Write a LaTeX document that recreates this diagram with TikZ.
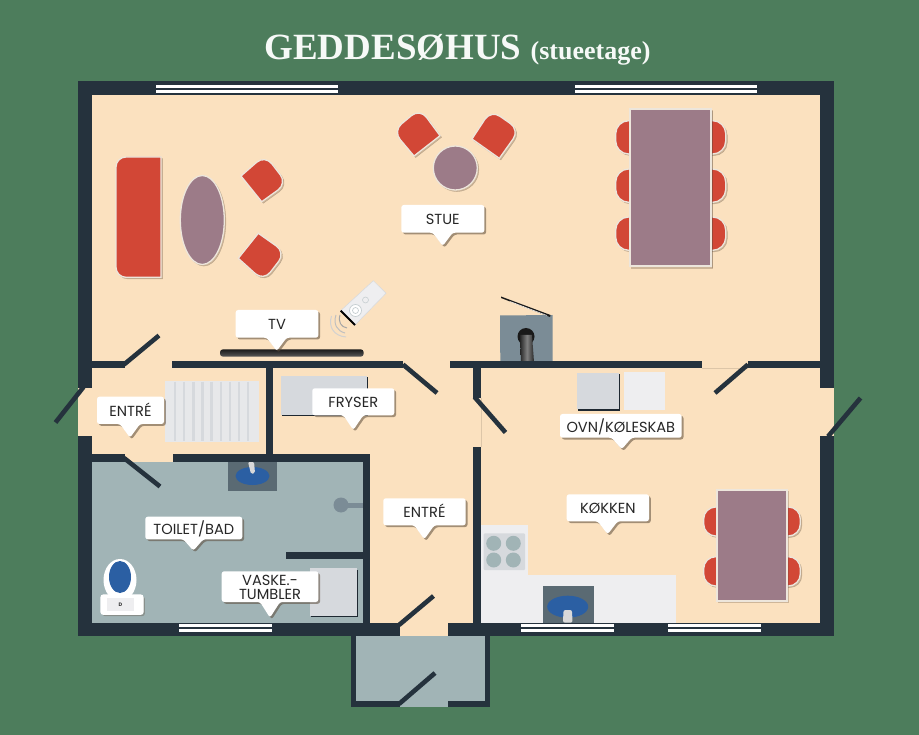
\documentclass[tikz,border=0pt]{standalone}
\usepackage{fontspec}
\setmainfont{Poppins}
\newfontfamily\titlefont{Liberation Serif}
\definecolor{bggreen}{HTML}{4D7D5C}
\definecolor{wall}{HTML}{25323D}
\definecolor{floorc}{HTML}{FBE1BF}
\definecolor{wetc}{HTML}{A1B4B6}
\definecolor{redc}{HTML}{D24736}
\definecolor{purplec}{HTML}{9C7B88}
\definecolor{edgec}{HTML}{EDE6DC}
\definecolor{counter}{HTML}{EEEEF0}
\definecolor{appl}{HTML}{D6D9DD}
\definecolor{sinkgrey}{HTML}{5A6A73}
\definecolor{blues}{HTML}{2B5FA3}
\definecolor{stovegrey}{HTML}{7B8C96}
\definecolor{shadowc}{HTML}{5A4A3A}
\tikzset{
  wallf/.style={fill=wall},
  leaf/.style={draw=wall,line width=4.6pt},
  winline/.style={fill=white},
  furn/.style={draw=edgec,line width=1.3pt,
    preaction={fill=shadowc,draw=shadowc,opacity=.28,transform canvas={xshift=1.6pt,yshift=-1.6pt}}},
  redf/.style={furn,fill=redc},
  purf/.style={furn,fill=purplec},
  applf/.style={fill=appl,
    preaction={fill=wall!80!black,transform canvas={xshift=1pt,yshift=-1.3pt}}},
  bubble/.style={fill=white,rounded corners=2.5pt,
    preaction={fill=shadowc,opacity=.55,transform canvas={xshift=1.8pt,yshift=-1.8pt}}},
  labeltext/.style={inner sep=0pt,text=black!85,align=center,font=\fontsize{14.6}{13.8}\selectfont},
}
% name, x1, y1, x2, y2, tipx, tipy, text
\newcommand{\callout}[8]{%
  \path[bubble] (#2,#3) -- (#4,#3) -- (#4,#5) -- ({#6+10},#5) -- (#6,#7) -- ({#6-10},#5) -- (#2,#5) -- cycle;
  \node[labeltext] (#1) at ({(#2+#4)/2},{(#3+#5)/2+1}) {#8};
}
\begin{document}
\begin{tikzpicture}[x=1pt,y=-1pt]
\useasboundingbox (0,0) rectangle (919,735);
\fill[bggreen] (0,0) rectangle (919,735);
% title
\node[anchor=base,inner sep=0pt,text=white!95!bggreen] (title) at (457.5,60)
  {\titlefont\bfseries\fontsize{37}{40}\selectfont GEDDESØHUS {\fontsize{26}{30}\selectfont (stueetage)}};
% floors
\fill[floorc] (92,95) rectangle (819.5,623);
\fill[floorc] (77.7,387.7) rectangle (92,436);
\fill[floorc] (819,387.7) rectangle (834,436);
\fill[floorc] (400,622) rectangle (448,636);
\fill[wetc] (92,461.7) rectangle (363,623);
\fill[wetc] (355,635.7) rectangle (485,700.7);
\fill[wetc] (400,700) rectangle (448,706.7);
\draw[floorc!88!black,line width=.4pt] (480.7,398) -- (480.7,447);
\draw[floorc!88!black,line width=.4pt] (701.7,368) -- (748,368);
% living room furniture
\path[redf] (161,157) [rounded corners=10pt] -- (116,157) -- (116,277.3) [sharp corners] -- (161,277.3) -- cycle;
\path[purf] (202.3,220) ellipse [x radius=22,y radius=44.5];
\path[redf] (241,176) -- (261.7,201.7) [rounded corners=11pt] -- (287,183.5) -- (265,155) [sharp corners] -- cycle;
\path[redf] (238.3,258.3) -- (258.3,233.3) [rounded corners=11pt] -- (285.5,252.5) -- (263.5,281) [sharp corners] -- cycle;
\path[redf] (414,156) -- (440,135.7) [rounded corners=11pt] -- (420,108.5) -- (393,131) [sharp corners] -- cycle;
\path[redf] (472,139) -- (499.3,158.3) [rounded corners=11pt] -- (519.5,130) -- (491,110) [sharp corners] -- cycle;
\path[purf] (455.3,168) circle [radius=22];
\foreach \ya/\yb in {120.7/154,169/202.3,217/250.3}{
  \path[redf,rounded corners=13pt] (615.7,\ya) rectangle (725.7,\yb);
}
\path[purf,line width=2pt] (630,109) rectangle (711,266.3);
% TV and remote
\path[top color=black!90,bottom color=black!65,rounded corners=3pt] (220,349.3) rectangle (363.7,356.7);
\path[fill=counter,draw=appl,line width=.5pt] (340.7,310.7) -- (373.3,280.7) -- (386,293.3) -- (355,325) -- cycle;
\draw[black,line width=1.8pt] (340.7,310.7) -- (355,325);
\draw[appl!70!wetc,line width=.7pt,fill=white] (355.5,310.5) circle [radius=6];
\draw[appl!70!wetc,line width=.7pt] (355.5,310.5) circle [radius=3];
\draw[appl!70!wetc,line width=.6pt] (365.5,300) circle [radius=3];
\draw[black!35,line width=1pt] (340,315) .. controls (338,322) and (341,327) .. (347,328);
\draw[black!25,line width=1pt] (336,315) .. controls (333,324) and (337,331) .. (345,333);
\draw[black!18,line width=1pt] (331.5,316) .. controls (328,327) and (334,336) .. (346,337);
% fireplace
\fill[stovegrey] (500,315.5) -- (552.7,315) -- (552.7,361) -- (500.3,361) -- cycle;
\fill[black!90] (526,336.5) circle [radius=8.5];
\path[left color=black!85,right color=black!85,middle color=black!50] (520,335) -- (532,335) -- (534,362) -- (521,362) -- cycle;
\fill[black!90] (501,296.5) -- (550.5,315) -- (550,317) -- (501,298) -- cycle;
\draw[white,line width=.5pt] (510,301.5) -- (547,315.5);
% stairs
\fill[counter!70!appl] (164.5,381) rectangle (258.5,441.5);
\foreach \sx in {175,184.2,193.3,202.4,211.6,220.7,230,239,248}{
  \draw[appl,line width=2.4pt] (\sx,382) -- (\sx,441);
}
% freezer
\path[applf] (280.7,375.7) rectangle (367.3,415);
% bath
\fill[sinkgrey] (228,461.7) rectangle (277,491);
\fill[blues] (252.5,476) ellipse [x radius=17,y radius=9];
\path[fill=black!15,rounded corners=1.5pt] (248,461.7) -- (254,461.7) -- (255,473) -- (251,474) -- cycle;
\fill[stovegrey] (341,505) circle [radius=7.5];
\fill[stovegrey] (341,502.5) rectangle (363,507.5);
\path[applf] (310,568.3) rectangle (357.3,615.7);
\path[fill=white] (120,580) ellipse [x radius=16.5,y radius=21];
\path[fill=blues] (120,577) ellipse [x radius=11,y radius=16];
\path[furn,fill=white,draw=white,rounded corners=2.5pt] (101,595) rectangle (143,614.3);
\fill[counter] (106.7,598.3) rectangle (134.3,610.7);
\node[inner sep=0pt,text=black!80,font=\fontsize{5}{5}\selectfont\bfseries] (toiletmark) at (120.5,604.8) {D};
% kitchen
\fill[counter] (480.7,575) rectangle (676,622.7);
\fill[counter] (480.7,525) rectangle (528.3,575);
\fill[appl,rounded corners=1pt] (483.7,533.3) rectangle (525,570);
\foreach \bx in {493.7,513.3}{\foreach \by in {543.3,560}{
  \fill[wetc] (\bx,\by) circle [radius=7.5];
}}
\fill[sinkgrey] (543,586) rectangle (594,622.7);
\fill[blues] (567.7,606.7) ellipse [x radius=20.5,y radius=11];
\path[fill=black!15,rounded corners=2pt] (563,622.7) -- (563.5,610) -- (572,610) -- (572.5,622.7) -- cycle;
\path[applf] (577.3,372.7) rectangle (618.7,409.3);
\fill[counter] (624,372) rectangle (665.3,410);
\foreach \ya/\yb in {507/536,556.7/586}{
  \path[redf,rounded corners=12pt] (703.7,\ya) rectangle (800.3,\yb);
}
\path[purf,line width=2pt] (716.7,490) rectangle (786.7,600.7);
% walls: outer
\fill[wallf] (77.7,81) rectangle (834,95.3);
\fill[wallf] (77.7,81) rectangle (92,387.7);
\fill[wallf] (77.7,436) rectangle (92,635.7);
\fill[wallf] (819.5,81) rectangle (834,387.7);
\fill[wallf] (819.5,436) rectangle (834,635.7);
\fill[wallf] (77.7,622.7) rectangle (400,635.7);
\fill[wallf] (448,622.7) rectangle (834,635.7);
% walls: inner horizontal
\fill[wallf] (92,361) rectangle (125,368);
\fill[wallf] (172.3,361) rectangle (403,368);
\fill[wallf] (450,361) rectangle (701.7,368);
\fill[wallf] (748,361) rectangle (819.5,368);
\fill[wallf] (92,454.3) rectangle (125,461.7);
\fill[wallf] (173.3,454.3) rectangle (370,461.7);
\fill[wallf] (285.7,552) rectangle (363,559.3);
% walls: inner vertical
\fill[wallf] (266,361) rectangle (272.7,455);
\fill[wallf] (362.7,454.3) rectangle (370,623);
\fill[wallf] (473.3,361) rectangle (480.7,398);
\fill[wallf] (473.3,446.7) rectangle (480.7,623);
% porch walls
\fill[wallf] (350.7,635) rectangle (355.7,706.7);
\fill[wallf] (484.7,635) rectangle (490,706.7);
\fill[wallf] (350.7,700.7) rectangle (400,706.7);
\fill[wallf] (448,700.7) rectangle (490,706.7);
% door leaves
\draw[leaf] (124,364.5) -- (159,335.5);
\draw[leaf] (403,364.5) -- (437,393);
\draw[leaf] (748,364.5) -- (715,393);
\draw[leaf] (124,458) -- (160,486.5);
\draw[leaf] (474.5,397) -- (505.5,432.5);
\draw[leaf] (83.5,387) -- (55.5,422.5);
\draw[leaf] (828,436.5) -- (860.5,398);
\draw[leaf] (399,625) -- (433.5,596);
\draw[leaf] (399,704) -- (435,673);
% windows
\foreach \xa/\xb in {156/338,574.7/756.7}{
  \fill[winline] (\xa,84.7) rectangle (\xb,87.7);
  \fill[winline] (\xa,89.7) rectangle (\xb,93);
}
\foreach \xa/\xb in {179/271.7,520.7/613.7,668/761}{
  \fill[winline] (\xa,624.3) rectangle (\xb,627.3);
  \fill[winline] (\xa,629) rectangle (\xb,632);
}
% labels
\callout{stue}{401.3}{205}{484.3}{232.7}{442.7}{246}{STUE}
\callout{tv}{235.7}{310}{318.3}{337.7}{276.7}{351}{TV}
\callout{entre1}{97}{396.7}{164}{424}{130}{437.7}{ENTR\smash{É}}
\callout{fryser}{312.3}{388.3}{394.3}{415.3}{353.3}{430}{FRYSER}
\callout{toilet}{145.3}{516.7}{242.3}{539.3}{193.3}{550.7}{TOILET/BAD}
\callout{entre2}{383.3}{498.3}{465.7}{525.3}{424.3}{539.3}{ENTR\smash{É}}
\callout{vaske}{221.7}{571.3}{318.3}{602}{270}{617.7}{VASKE.-\\TUMBLER}
\callout{ovn}{560}{414}{681.7}{437.7}{621.7}{449.3}{OVN/KØLESKAB}
\callout{kokken}{566.7}{494.3}{649}{521.3}{607.7}{534.3}{KØKKEN}
\end{tikzpicture}
\end{document}
